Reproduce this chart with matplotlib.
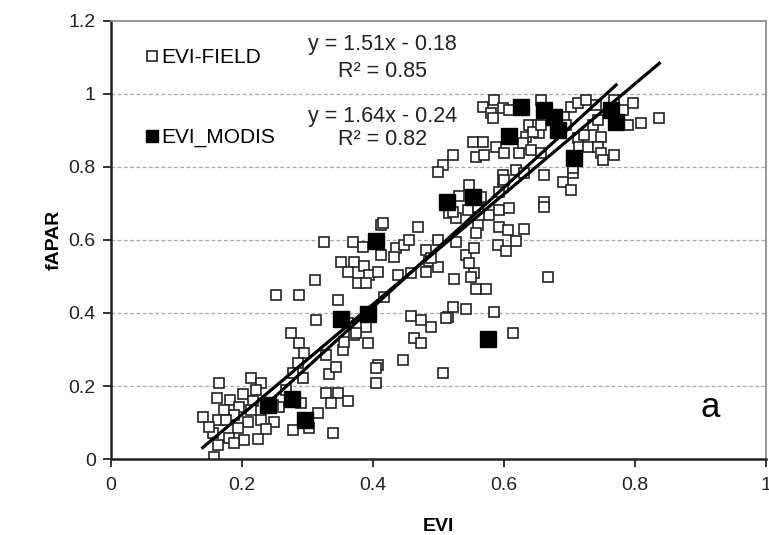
import numpy as np
import matplotlib
matplotlib.use("Agg")
import matplotlib.pyplot as plt
from matplotlib.lines import Line2D

plt.rcParams['font.family'] = ['Liberation Sans', 'DejaVu Sans']

# EVI-FIELD (open squares)
field_evi = [
    0.165, 0.162, 0.140, 0.214, 0.229, 0.221, 0.202, 0.182, 0.173, 0.195,
    0.217, 0.188, 0.163, 0.209, 0.229, 0.249, 0.237, 0.194, 0.156, 0.180,
    0.203, 0.224, 0.188, 0.163, 0.157, 0.256, 0.278, 0.302, 0.339, 0.316,
    0.328, 0.347, 0.362, 0.336, 0.290, 0.267, 0.293, 0.247, 0.176, 0.150,
    0.214,
    0.275, 0.287, 0.295, 0.285, 0.278, 0.328, 0.333, 0.344, 0.354, 0.356,
    0.371, 0.389, 0.392, 0.408, 0.405, 0.405, 0.446, 0.463, 0.507, 0.473,
    0.458, 0.473, 0.489, 0.515, 0.522, 0.542, 0.524, 0.557, 0.573, 0.554,
    0.313, 0.252, 0.287, 0.311, 0.347, 0.362, 0.374, 0.417, 0.585, 0.614,
    0.667, 0.511,
    0.325, 0.369, 0.385, 0.412, 0.412, 0.351, 0.371, 0.362, 0.386, 0.394,
    0.408, 0.377, 0.389, 0.438, 0.458, 0.481, 0.485, 0.481, 0.435, 0.432,
    0.447, 0.455, 0.469, 0.499, 0.415, 0.499, 0.489, 0.527, 0.542, 0.547,
    0.554, 0.550,
    0.547, 0.531, 0.516, 0.527, 0.545, 0.560, 0.577, 0.592, 0.608, 0.598,
    0.592, 0.606, 0.631, 0.560, 0.557, 0.618, 0.591, 0.603, 0.661, 0.661,
    0.522, 0.565, 0.592,
    0.585, 0.568, 0.580, 0.598, 0.583, 0.608, 0.656, 0.702, 0.713, 0.725,
    0.740, 0.768, 0.782, 0.797, 0.789, 0.809, 0.837, 0.638, 0.652, 0.653,
    0.634, 0.692, 0.695, 0.713, 0.722, 0.748, 0.715, 0.728, 0.744, 0.748,
    0.736, 0.744, 0.768, 0.751, 0.553, 0.568, 0.557, 0.569, 0.522, 0.507,
    0.499, 0.588, 0.600, 0.623, 0.629, 0.641, 0.656, 0.598, 0.618, 0.631,
    0.661, 0.690, 0.702, 0.705, 0.600, 0.644, 0.656, 0.705,
]
field_fapar = [
    0.208, 0.167, 0.115, 0.222, 0.208, 0.189, 0.178, 0.162, 0.134, 0.142,
    0.159, 0.121, 0.107, 0.101, 0.107, 0.101, 0.082, 0.085, 0.071, 0.058,
    0.052, 0.055, 0.044, 0.038, 0.005, 0.142, 0.079, 0.085, 0.071, 0.126,
    0.181, 0.181, 0.159, 0.153, 0.153, 0.189, 0.222, 0.148, 0.107, 0.088,
    0.134,
    0.345, 0.318, 0.290, 0.263, 0.236, 0.285, 0.233, 0.252, 0.299, 0.321,
    0.340, 0.362, 0.318, 0.258, 0.249, 0.208, 0.271, 0.332, 0.236, 0.318,
    0.392, 0.381, 0.362, 0.389, 0.416, 0.411, 0.493, 0.466, 0.466, 0.510,
    0.381, 0.449, 0.449, 0.490, 0.436, 0.373, 0.345, 0.444, 0.403, 0.345,
    0.499, 0.386,
    0.595, 0.595, 0.581, 0.641, 0.559, 0.540, 0.540, 0.512, 0.529, 0.504,
    0.512, 0.482, 0.482, 0.504, 0.510, 0.512, 0.542, 0.573, 0.578, 0.553,
    0.586, 0.600, 0.636, 0.600, 0.647, 0.526, 0.551, 0.595, 0.559, 0.537,
    0.578, 0.499,
    0.751, 0.721, 0.674, 0.660, 0.682, 0.690, 0.668, 0.682, 0.688, 0.745,
    0.636, 0.627, 0.630, 0.641, 0.619, 0.597, 0.586, 0.570, 0.704, 0.690,
    0.677, 0.718, 0.732,
    0.984, 0.964, 0.948, 0.962, 0.934, 0.956, 0.984, 0.964, 0.975, 0.984,
    0.970, 0.984, 0.956, 0.975, 0.915, 0.921, 0.934, 0.915, 0.915, 0.893,
    0.882, 0.937, 0.915, 0.879, 0.888, 0.882, 0.855, 0.855, 0.855, 0.838,
    0.915, 0.929, 0.833, 0.819, 0.868, 0.868, 0.827, 0.833, 0.833, 0.805,
    0.786, 0.855, 0.838, 0.838, 0.866, 0.847, 0.838, 0.778, 0.792, 0.784,
    0.778, 0.759, 0.737, 0.784, 0.764, 0.896, 0.915, 0.797,
]

# EVI_MODIS (filled squares)
modis_evi = [0.240, 0.276, 0.296, 0.351, 0.392, 0.405, 0.513, 0.553, 0.575,
             0.608, 0.626, 0.661, 0.676, 0.682, 0.707, 0.763, 0.771]
modis_fapar = [0.148, 0.164, 0.107, 0.384, 0.397, 0.598, 0.704, 0.718, 0.329,
               0.885, 0.964, 0.956, 0.937, 0.900, 0.825, 0.956, 0.923]

# trendlines as printed on the chart: slope, intercept, R2
field_fit = (1.51, -0.18, 0.85)
modis_fit = (1.64, -0.24, 0.82)

x_ticks = [0, 0.2, 0.4, 0.6, 0.8, 1.0]
x_labels = ['0', '0.2', '0.4', '0.6', '0.8', '1']
y_ticks = [0, 0.2, 0.4, 0.6, 0.8, 1.0, 1.2]
y_labels = ['0', '0.2', '0.4', '0.6', '0.8', '1', '1.2']

fig = plt.figure(figsize=(7.69, 5.35), dpi=100)
ax = fig.add_axes([0.1443, 0.142, 0.852, 0.819])

for yv in y_ticks[1:-1]:
    ax.axhline(yv, color='#a8a8a8', lw=0.9, ls=(0, (3, 2)), zorder=0)

ax.plot(field_evi, field_fapar, ls='none', marker='s', ms=7, mfc='white',
        mec='#222222', mew=1.2, zorder=2)
ax.plot(modis_evi, modis_fapar, ls='none', marker='s', ms=12, mfc='black',
        mec='black', zorder=3)

for xs, (m, b, r2) in [(field_evi, field_fit), (modis_evi, modis_fit)]:
    xl = np.array([min(xs), max(xs)])
    ax.plot(xl, m * xl + b, color='black', lw=2.3, zorder=4)

ax.set_xlim(0, 1)
ax.set_ylim(0, 1.2)
ax.set_xticks(x_ticks)
ax.set_xticklabels(x_labels)
ax.set_yticks(y_ticks)
ax.set_yticklabels(y_labels)
ax.tick_params(direction='out', length=6, width=1.3, labelsize=14,
               colors='#222222', pad=5)
ax.tick_params(axis='x', pad=7)

for s in ['left', 'bottom']:
    ax.spines[s].set_linewidth(1.8)
    ax.spines[s].set_color('#222222')
for s in ['top', 'right']:
    ax.spines[s].set_linewidth(1.2)
    ax.spines[s].set_color('#888888')

ax.set_xlabel('EVI', fontsize=14, fontweight='bold', labelpad=17)
ax.set_ylabel('fAPAR', fontsize=14, fontweight='bold', labelpad=4)

handles = [
    Line2D([], [], ls='none', marker='s', ms=6.5, mfc='white', mec='#222222', mew=1.2),
    Line2D([], [], ls='none', marker='s', ms=9, mfc='black', mec='black'),
]
ax.legend(handles, ['EVI-FIELD', 'EVI_MODIS'], loc='upper left',
          bbox_to_anchor=(0.03, 0.975), frameon=False, fontsize=15,
          handlelength=0.5, handletextpad=0.15, labelspacing=2.9,
          borderpad=0.3)

ax.text(0.414, 1.134, 'y = %.2fx - %.2f' % (field_fit[0], -field_fit[1]),
        ha='center', va='center', fontsize=15.5, color='#222222')
ax.text(0.414, 1.06, 'R² = %.2f' % field_fit[2], ha='center', va='center',
        fontsize=15.5, color='#222222')
ax.text(0.414, 0.937, 'y = %.2fx - %.2f' % (modis_fit[0], -modis_fit[1]),
        ha='center', va='center', fontsize=15.5, color='#222222')
ax.text(0.414, 0.874, 'R² = %.2f' % modis_fit[2], ha='center', va='center',
        fontsize=15.5, color='#222222')

ax.text(0.915, 0.14, 'a', ha='center', va='center', fontsize=25)

fig.savefig('out.png', dpi=100)
